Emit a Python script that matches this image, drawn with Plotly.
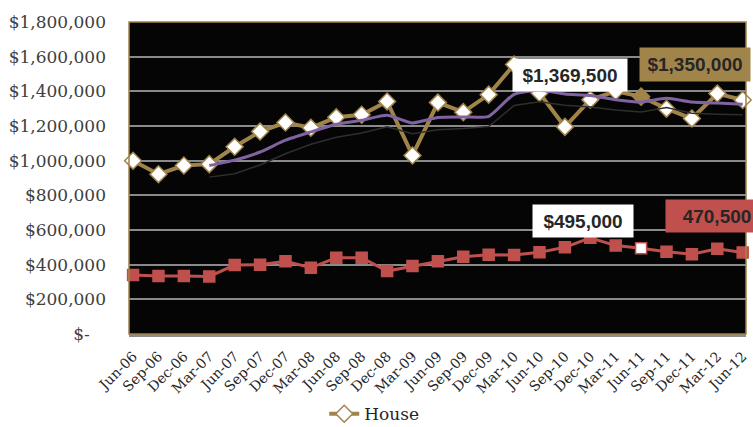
import plotly.graph_objects as go

categories = ["Jun-06", "Sep-06", "Dec-06", "Mar-07", "Jun-07", "Sep-07", "Dec-07", "Mar-08",
              "Jun-08", "Sep-08", "Dec-08", "Mar-09", "Jun-09", "Sep-09", "Dec-09", "Mar-10",
              "Jun-10", "Sep-10", "Dec-10", "Mar-11", "Jun-11", "Sep-11", "Dec-11", "Mar-12", "Jun-12"]

house = [1000000, 922000, 972000, 980000, 1080000, 1168000, 1220000, 1190000,
         1250000, 1265000, 1342000, 1030000, 1335000, 1280000, 1381000, 1555000,
         1390000, 1195000, 1352000, 1400000, 1369500, 1300000, 1243000, 1387000, 1350000]

unit = [340000, 335000, 335000, 332000, 398000, 400000, 420000, 382000,
        440000, 440000, 363000, 392000, 420000, 446000, 457000, 456000,
        471000, 500000, 555000, 510000, 495000, 475000, 460000, 492000, 470500]

house_trend = [None, None, None, 972000, 1003000, 1050000, 1118000, 1166000,
               1210000, 1233000, 1262000, 1218000, 1249000, 1252000, 1256000, 1383000,
               1406000, 1385000, 1376000, 1352000, 1338000, 1360000, 1338000, 1332000, 1326000]

trend_shadow = [None, None, None, 905000, 925000, 975000, 1040000, 1095000,
                1135000, 1160000, 1195000, 1155000, 1178000, 1185000, 1197000, 1318000,
                1340000, 1320000, 1310000, 1292000, 1281000, 1307000, 1274000, 1268000, 1265000]

y_tickvals = [0, 200000, 400000, 600000, 800000, 1000000, 1200000, 1400000, 1600000, 1800000]
y_ticktext = ["$-\u00a0\u00a0\u00a0", "$200,000", "$400,000", "$600,000", "$800,000",
              "$1,000,000", "$1,200,000", "$1,400,000", "$1,600,000", "$1,800,000"]

GOLD = "#A0844A"
RED = "#C0504D"
PURPLE = "#8064A2"

x_idx = list(range(len(categories)))

fig = go.Figure()

fig.add_trace(go.Scatter(
    x=x_idx, y=unit, mode="lines+markers", name="Unit", showlegend=False,
    line=dict(color=RED, width=3),
    marker=dict(symbol="square", size=11, color=[("#FFFFFF" if c == "Jun-11" else RED) for c in categories],
                line=dict(color=RED, width=1.5)),
    cliponaxis=False,
))

fig.add_trace(go.Scatter(
    x=x_idx, y=house, mode="lines+markers", name="House",
    line=dict(color=GOLD, width=4),
    marker=dict(symbol="diamond", size=13, color=[(GOLD if c == "Jun-11" else "#FFFFFF") for c in categories],
                line=dict(color=GOLD, width=1.5)),
    cliponaxis=False,
))

fig.add_trace(go.Scatter(
    x=x_idx, y=trend_shadow, mode="lines", name="shadow", showlegend=False,
    line=dict(color="#2E2E2E", width=1.5), hoverinfo="skip", cliponaxis=False,
))

fig.add_trace(go.Scatter(
    x=x_idx, y=house_trend, mode="lines", name="Trend", showlegend=False,
    line=dict(color=PURPLE, width=3, shape="spline", smoothing=0.6), cliponaxis=False,
))

ann_font = dict(family="Liberation Sans", size=19, color="#262626", weight="bold")
labels = [
    dict(idx=20, val=house[20], text="$1,369,500", bg="#FFFFFF", xs=-71, ys=22, w=112, h=30),
    dict(idx=24, val=house[24], text="$1,350,000", bg=GOLD, xs=-48, ys=36, w=108, h=31),
    dict(idx=20, val=unit[20], text="$495,000", bg="#FFFFFF", xs=-58, ys=27, w=98, h=30),
    dict(idx=24, val=unit[24], text="470,500", bg=RED, xs=-26, ys=36, w=100, h=30),
]
for lb in labels:
    fig.add_annotation(
        x=lb["idx"], y=lb["val"], xref="x", yref="y", text=lb["text"], showarrow=False,
        xshift=lb["xs"], yshift=lb["ys"], bgcolor=lb["bg"], font=ann_font,
        width=lb["w"], height=lb["h"], align="center", valign="middle",
    )

# plot border (gold left/top/right)
fig.add_shape(type="rect", xref="paper", yref="paper", x0=0, x1=1, y0=0, y1=1,
              line=dict(color=GOLD, width=1.5), layer="above")

fig.update_layout(
    width=753, height=427,
    margin=dict(l=129, r=7, t=22, b=93, autoexpand=False),
    paper_bgcolor="#FFFFFF",
    plot_bgcolor="#050505",
    showlegend=True,
    legend=dict(orientation="h", xref="container", yref="container", x=0.497, y=0.03,
                xanchor="center", yanchor="middle",
                font=dict(family="DejaVu Serif", size=17, color="#262626"),
                bgcolor="rgba(0,0,0,0)"),
    xaxis=dict(
        tickmode="array", tickvals=x_idx, ticktext=categories, automargin=False,
        range=[-0.16, 24.13], tickangle=-45, showgrid=False, zeroline=False,
        showline=True, linecolor="#8C8C8C", linewidth=2.5,
        ticks="", tickfont=dict(family="DejaVu Serif", size=14, color="#262626"),
        ticklabelstandoff=6,
    ),
    yaxis=dict(
        range=[0, 1800000], tickmode="array", tickvals=y_tickvals, ticktext=y_ticktext,
        automargin=False,
        showgrid=True, gridcolor="#8A8A8A", gridwidth=1.5, zeroline=False,
        ticks="", tickfont=dict(family="DejaVu Serif", size=17, color="#404040"),
        ticklabelstandoff=22,
    ),
    font=dict(family="DejaVu Serif"),
)

fig.write_html("out.html", config={"displayModeBar": False},
               post_script="document.body.style.margin='0px';")
